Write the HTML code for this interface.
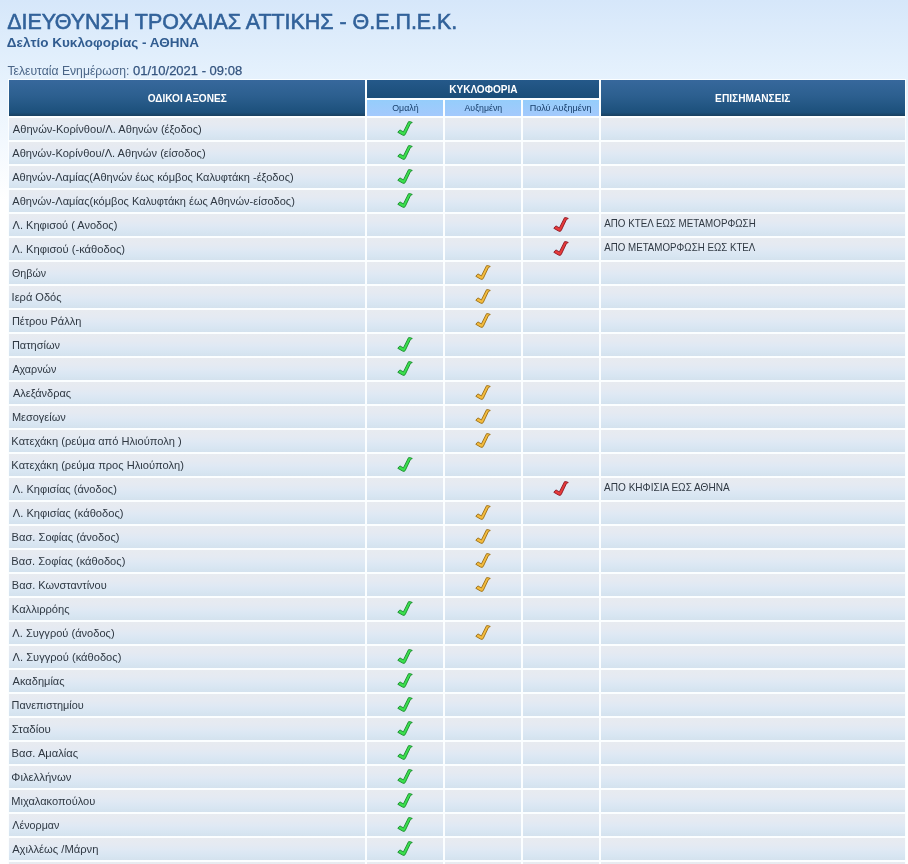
<!DOCTYPE html>
<html lang="el"><head><meta charset="utf-8"><title>Δελτίο Κυκλοφορίας - ΑΘΗΝΑ</title>
<style>
html,body{margin:0;padding:0}
body{width:908px;height:864px;overflow:hidden;position:relative;font-family:"Liberation Sans","DejaVu Sans",sans-serif;
 background:linear-gradient(to bottom,#d6e7fa 0,#e6f2fd 80px,#ffffff 200px,#ffffff 100%);color:#333}
.x{display:inline-block;transform-origin:0 50%;white-space:nowrap}
.xc{display:inline-block;transform-origin:50% 50%;white-space:nowrap}
.t1{position:absolute;left:7px;top:10px;margin:0;font-size:22px;line-height:24px;font-weight:normal;-webkit-text-stroke:.6px #32629a;color:#32629a;white-space:nowrap}
.t2{position:absolute;left:7px;top:35px;margin:0;font-size:13px;line-height:16px;font-weight:bold;color:#315c90;white-space:nowrap}
.t3{position:absolute;left:7px;top:63px;margin:0;font-size:13px;line-height:16px;color:#4a6587;white-space:nowrap}
.t3 .la{position:absolute;left:0;top:0}
.t3 b{position:absolute;left:126px;top:0;font-weight:normal;color:#34547f;-webkit-text-stroke:.25px #34547f}
.tb{position:absolute;left:7px;top:78px;width:900px;border-collapse:separate;border-spacing:2px;table-layout:fixed;background:transparent}
.bgw{position:absolute;left:8px;top:79px;width:898px;height:800px;background:#fbfeff}
.tb th,.tb td{padding:0;margin:0;overflow:hidden;white-space:nowrap}
.h{background:linear-gradient(to bottom,#37689c 0,#2c5f8f 45%,#1c507b 90%,#18405f 100%);color:#fff;font-size:11px;font-weight:bold;text-align:center;vertical-align:middle}
.c1{width:356px;height:36px}
.hk{height:18px;background:linear-gradient(to bottom,#25598a 0,#1a4d78 100%)}
.c5{width:304px}
.s{width:76px;height:16px;background:linear-gradient(to bottom,#95cdfb,#a3c9fc);color:#173f6b;font-size:9px;font-weight:normal;text-align:center;vertical-align:middle}
.tb td{height:22px;background:linear-gradient(to bottom,#e8ebf0 0,#e5eaf2 30%,#dfe9f4 55%,#d8e6f2 80%,#d4e2ee 100%);font-size:11px;color:#2f3842;vertical-align:middle}
.n{text-align:left;padding-left:3.4px !important}
.k{text-align:center}
.m{padding-left:3px !important}
.m span{position:relative;top:-2px}
.i{display:block;margin:0 auto;overflow:visible}
.g{fill:#3be04e;stroke:#178a2b;stroke-width:.9}
.o{fill:#f4bc3e;stroke:#9a6c12;stroke-width:.9}
.r{fill:#e83a3a;stroke:#8c1420;stroke-width:.9}
</style></head>
<body>
<h1 class="t1"><span class="x" style="transform:translateX(0.20px) scaleX(0.9737)">ΔΙΕΥΘΥΝΣΗ ΤΡΟΧΑΙΑΣ ΑΤΤΙΚΗΣ - Θ.Ε.Π.Ε.Κ.</span></h1>
<h2 class="t2"><span class="x" style="transform:translateX(-0.15px) scaleX(1.0386)">Δελτίο Κυκλοφορίας - ΑΘΗΝΑ</span></h2>
<div class="t3"><span class="x la" style="transform:translateX(0.40px) scaleX(0.9365)">Τελευταία Ενημέρωση:</span> <b class="x da">01/10/2021 - 09:08</b></div>
<div class="bgw"></div>
<table class="tb" cellspacing="2" cellpadding="0">
<thead>
<tr><th class="h c1" rowspan="2"><span class="xc" style="transform:translateX(0.00px) scaleX(0.9151)">ΟΔΙΚΟΙ ΑΞΟΝΕΣ</span></th><th class="h hk" colspan="3"><span class="xc" style="transform:translateX(0.00px) scaleX(0.9149)">ΚΥΚΛΟΦΟΡΙΑ</span></th><th class="h c5" rowspan="2"><span class="xc" style="transform:translateX(0.00px) scaleX(0.9235)">ΕΠΙΣΗΜΑΝΣΕΙΣ</span></th></tr>
<tr><th class="s"><span class="xc" style="transform:translateX(0.00px) scaleX(0.9808)">Ομαλή</span></th><th class="s"><span class="xc" style="transform:translateX(0.00px) scaleX(0.9737)">Αυξημένη</span></th><th class="s"><span class="xc" style="transform:translateX(0.00px) scaleX(1.0083)">Πολύ Αυξημένη</span></th></tr>
</thead>
<tbody>
<tr><td class="n"><span class="x" style="transform:translateX(0.85px) scaleX(1.0091)">Αθηνών-Κορίνθου/Λ. Αθηνών (έξοδος)</span></td><td class="k"><svg class="i g" width="16" height="16" viewBox="0 0 16 16"><path d="M11.5 .7L13.4 .7L15.3 1.5L13.5 2.4L8.2 13.6L7 14.4L5.5 14L.8 11.3L2.9 8.9L6.4 10.9Z"/></svg></td><td class="k"></td><td class="k"></td><td class="m"></td></tr>
<tr><td class="n"><span class="x" style="transform:translateX(0.25px) scaleX(1.0079)">Αθηνών-Κορίνθου/Λ. Αθηνών (είσοδος)</span></td><td class="k"><svg class="i g" width="16" height="16" viewBox="0 0 16 16"><path d="M11.5 .7L13.4 .7L15.3 1.5L13.5 2.4L8.2 13.6L7 14.4L5.5 14L.8 11.3L2.9 8.9L6.4 10.9Z"/></svg></td><td class="k"></td><td class="k"></td><td class="m"></td></tr>
<tr><td class="n"><span class="x" style="transform:translateX(0.25px) scaleX(1.0018)">Αθηνών-Λαμίας(Αθηνών έως κόμβος Καλυφτάκη -έξοδος)</span></td><td class="k"><svg class="i g" width="16" height="16" viewBox="0 0 16 16"><path d="M11.5 .7L13.4 .7L15.3 1.5L13.5 2.4L8.2 13.6L7 14.4L5.5 14L.8 11.3L2.9 8.9L6.4 10.9Z"/></svg></td><td class="k"></td><td class="k"></td><td class="m"></td></tr>
<tr><td class="n"><span class="x" style="transform:translateX(0.35px) scaleX(1.0025)">Αθηνών-Λαμίας(κόμβος Καλυφτάκη έως Αθηνών-είσοδος)</span></td><td class="k"><svg class="i g" width="16" height="16" viewBox="0 0 16 16"><path d="M11.5 .7L13.4 .7L15.3 1.5L13.5 2.4L8.2 13.6L7 14.4L5.5 14L.8 11.3L2.9 8.9L6.4 10.9Z"/></svg></td><td class="k"></td><td class="k"></td><td class="m"></td></tr>
<tr><td class="n"><span class="x" style="transform:translateX(0.60px) scaleX(1.0019)">Λ. Κηφισού ( Ανοδος)</span></td><td class="k"></td><td class="k"></td><td class="k"><svg class="i r" width="16" height="16" viewBox="0 0 16 16"><path d="M11.5 .7L13.4 .7L15.3 1.5L13.5 2.4L8.2 13.6L7 14.4L5.5 14L.8 11.3L2.9 8.9L6.4 10.9Z"/></svg></td><td class="m"><span class="x" style="transform:translateX(0.20px) scaleX(0.8911)">ΑΠΟ ΚΤΕΛ ΕΩΣ ΜΕΤΑΜΟΡΦΩΣΗ</span></td></tr>
<tr><td class="n"><span class="x" style="transform:translateX(0.35px) scaleX(1.0155)">Λ. Κηφισού (-κάθοδος)</span></td><td class="k"></td><td class="k"></td><td class="k"><svg class="i r" width="16" height="16" viewBox="0 0 16 16"><path d="M11.5 .7L13.4 .7L15.3 1.5L13.5 2.4L8.2 13.6L7 14.4L5.5 14L.8 11.3L2.9 8.9L6.4 10.9Z"/></svg></td><td class="m"><span class="x" style="transform:translateX(0.20px) scaleX(0.8859)">ΑΠΟ ΜΕΤΑΜΟΡΦΩΣΗ ΕΩΣ ΚΤΕΛ</span></td></tr>
<tr><td class="n"><span class="x" style="transform:translateX(0.00px) scaleX(0.9706)">Θηβών</span></td><td class="k"></td><td class="k"><svg class="i o" width="16" height="16" viewBox="0 0 16 16"><path d="M11.5 .7L13.4 .7L15.3 1.5L13.5 2.4L8.2 13.6L7 14.4L5.5 14L.8 11.3L2.9 8.9L6.4 10.9Z"/></svg></td><td class="k"></td><td class="m"></td></tr>
<tr><td class="n"><span class="x" style="transform:translateX(-0.40px) scaleX(1.0042)">Ιερά Οδός</span></td><td class="k"></td><td class="k"><svg class="i o" width="16" height="16" viewBox="0 0 16 16"><path d="M11.5 .7L13.4 .7L15.3 1.5L13.5 2.4L8.2 13.6L7 14.4L5.5 14L.8 11.3L2.9 8.9L6.4 10.9Z"/></svg></td><td class="k"></td><td class="m"></td></tr>
<tr><td class="n"><span class="x" style="transform:translateX(-0.50px) scaleX(1.0000)">Πέτρου Ράλλη</span></td><td class="k"></td><td class="k"><svg class="i o" width="16" height="16" viewBox="0 0 16 16"><path d="M11.5 .7L13.4 .7L15.3 1.5L13.5 2.4L8.2 13.6L7 14.4L5.5 14L.8 11.3L2.9 8.9L6.4 10.9Z"/></svg></td><td class="k"></td><td class="m"></td></tr>
<tr><td class="n"><span class="x" style="transform:translateX(-0.50px) scaleX(1.0000)">Πατησίων</span></td><td class="k"><svg class="i g" width="16" height="16" viewBox="0 0 16 16"><path d="M11.5 .7L13.4 .7L15.3 1.5L13.5 2.4L8.2 13.6L7 14.4L5.5 14L.8 11.3L2.9 8.9L6.4 10.9Z"/></svg></td><td class="k"></td><td class="k"></td><td class="m"></td></tr>
<tr><td class="n"><span class="x" style="transform:translateX(0.50px) scaleX(0.9773)">Αχαρνών</span></td><td class="k"><svg class="i g" width="16" height="16" viewBox="0 0 16 16"><path d="M11.5 .7L13.4 .7L15.3 1.5L13.5 2.4L8.2 13.6L7 14.4L5.5 14L.8 11.3L2.9 8.9L6.4 10.9Z"/></svg></td><td class="k"></td><td class="k"></td><td class="m"></td></tr>
<tr><td class="n"><span class="x" style="transform:translateX(0.50px) scaleX(1.0000)">Αλεξάνδρας</span></td><td class="k"></td><td class="k"><svg class="i o" width="16" height="16" viewBox="0 0 16 16"><path d="M11.5 .7L13.4 .7L15.3 1.5L13.5 2.4L8.2 13.6L7 14.4L5.5 14L.8 11.3L2.9 8.9L6.4 10.9Z"/></svg></td><td class="k"></td><td class="m"></td></tr>
<tr><td class="n"><span class="x" style="transform:translateX(-0.50px) scaleX(1.0000)">Μεσογείων</span></td><td class="k"></td><td class="k"><svg class="i o" width="16" height="16" viewBox="0 0 16 16"><path d="M11.5 .7L13.4 .7L15.3 1.5L13.5 2.4L8.2 13.6L7 14.4L5.5 14L.8 11.3L2.9 8.9L6.4 10.9Z"/></svg></td><td class="k"></td><td class="m"></td></tr>
<tr><td class="n"><span class="x" style="transform:translateX(-0.65px) scaleX(1.0102)">Κατεχάκη (ρεύμα από Ηλιούπολη )</span></td><td class="k"></td><td class="k"><svg class="i o" width="16" height="16" viewBox="0 0 16 16"><path d="M11.5 .7L13.4 .7L15.3 1.5L13.5 2.4L8.2 13.6L7 14.4L5.5 14L.8 11.3L2.9 8.9L6.4 10.9Z"/></svg></td><td class="k"></td><td class="m"></td></tr>
<tr><td class="n"><span class="x" style="transform:translateX(-0.65px) scaleX(1.0101)">Κατεχάκη (ρεύμα προς Ηλιούπολη)</span></td><td class="k"><svg class="i g" width="16" height="16" viewBox="0 0 16 16"><path d="M11.5 .7L13.4 .7L15.3 1.5L13.5 2.4L8.2 13.6L7 14.4L5.5 14L.8 11.3L2.9 8.9L6.4 10.9Z"/></svg></td><td class="k"></td><td class="k"></td><td class="m"></td></tr>
<tr><td class="n"><span class="x" style="transform:translateX(0.85px) scaleX(1.0068)">Λ. Κηφισίας (άνοδος)</span></td><td class="k"></td><td class="k"></td><td class="k"><svg class="i r" width="16" height="16" viewBox="0 0 16 16"><path d="M11.5 .7L13.4 .7L15.3 1.5L13.5 2.4L8.2 13.6L7 14.4L5.5 14L.8 11.3L2.9 8.9L6.4 10.9Z"/></svg></td><td class="m"><span class="x" style="transform:translateX(0.05px) scaleX(0.9146)">ΑΠΟ ΚΗΦΙΣΙΑ ΕΩΣ ΑΘΗΝΑ</span></td></tr>
<tr><td class="n"><span class="x" style="transform:translateX(0.75px) scaleX(1.0138)">Λ. Κηφισίας (κάθοδος)</span></td><td class="k"></td><td class="k"><svg class="i o" width="16" height="16" viewBox="0 0 16 16"><path d="M11.5 .7L13.4 .7L15.3 1.5L13.5 2.4L8.2 13.6L7 14.4L5.5 14L.8 11.3L2.9 8.9L6.4 10.9Z"/></svg></td><td class="k"></td><td class="m"></td></tr>
<tr><td class="n"><span class="x" style="transform:translateX(-0.40px) scaleX(1.0114)">Βασ. Σοφίας (άνοδος)</span></td><td class="k"></td><td class="k"><svg class="i o" width="16" height="16" viewBox="0 0 16 16"><path d="M11.5 .7L13.4 .7L15.3 1.5L13.5 2.4L8.2 13.6L7 14.4L5.5 14L.8 11.3L2.9 8.9L6.4 10.9Z"/></svg></td><td class="k"></td><td class="m"></td></tr>
<tr><td class="n"><span class="x" style="transform:translateX(-0.75px) scaleX(1.0135)">Βασ. Σοφίας (κάθοδος)</span></td><td class="k"></td><td class="k"><svg class="i o" width="16" height="16" viewBox="0 0 16 16"><path d="M11.5 .7L13.4 .7L15.3 1.5L13.5 2.4L8.2 13.6L7 14.4L5.5 14L.8 11.3L2.9 8.9L6.4 10.9Z"/></svg></td><td class="k"></td><td class="m"></td></tr>
<tr><td class="n"><span class="x" style="transform:translateX(-0.15px) scaleX(0.9968)">Βασ. Κωνσταντίνου</span></td><td class="k"></td><td class="k"><svg class="i o" width="16" height="16" viewBox="0 0 16 16"><path d="M11.5 .7L13.4 .7L15.3 1.5L13.5 2.4L8.2 13.6L7 14.4L5.5 14L.8 11.3L2.9 8.9L6.4 10.9Z"/></svg></td><td class="k"></td><td class="m"></td></tr>
<tr><td class="n"><span class="x" style="transform:translateX(-0.15px) scaleX(1.0125)">Καλλιρρόης</span></td><td class="k"><svg class="i g" width="16" height="16" viewBox="0 0 16 16"><path d="M11.5 .7L13.4 .7L15.3 1.5L13.5 2.4L8.2 13.6L7 14.4L5.5 14L.8 11.3L2.9 8.9L6.4 10.9Z"/></svg></td><td class="k"></td><td class="k"></td><td class="m"></td></tr>
<tr><td class="n"><span class="x" style="transform:translateX(0.35px) scaleX(1.0069)">Λ. Συγγρού (άνοδος)</span></td><td class="k"></td><td class="k"><svg class="i o" width="16" height="16" viewBox="0 0 16 16"><path d="M11.5 .7L13.4 .7L15.3 1.5L13.5 2.4L8.2 13.6L7 14.4L5.5 14L.8 11.3L2.9 8.9L6.4 10.9Z"/></svg></td><td class="k"></td><td class="m"></td></tr>
<tr><td class="n"><span class="x" style="transform:translateX(0.60px) scaleX(1.0112)">Λ. Συγγρού (κάθοδος)</span></td><td class="k"><svg class="i g" width="16" height="16" viewBox="0 0 16 16"><path d="M11.5 .7L13.4 .7L15.3 1.5L13.5 2.4L8.2 13.6L7 14.4L5.5 14L.8 11.3L2.9 8.9L6.4 10.9Z"/></svg></td><td class="k"></td><td class="k"></td><td class="m"></td></tr>
<tr><td class="n"><span class="x" style="transform:translateX(0.60px) scaleX(1.0039)">Ακαδημίας</span></td><td class="k"><svg class="i g" width="16" height="16" viewBox="0 0 16 16"><path d="M11.5 .7L13.4 .7L15.3 1.5L13.5 2.4L8.2 13.6L7 14.4L5.5 14L.8 11.3L2.9 8.9L6.4 10.9Z"/></svg></td><td class="k"></td><td class="k"></td><td class="m"></td></tr>
<tr><td class="n"><span class="x" style="transform:translateX(-0.40px) scaleX(0.9889)">Πανεπιστημίου</span></td><td class="k"><svg class="i g" width="16" height="16" viewBox="0 0 16 16"><path d="M11.5 .7L13.4 .7L15.3 1.5L13.5 2.4L8.2 13.6L7 14.4L5.5 14L.8 11.3L2.9 8.9L6.4 10.9Z"/></svg></td><td class="k"></td><td class="k"></td><td class="m"></td></tr>
<tr><td class="n"><span class="x" style="transform:translateX(-0.25px) scaleX(1.0417)">Σταδίου</span></td><td class="k"><svg class="i g" width="16" height="16" viewBox="0 0 16 16"><path d="M11.5 .7L13.4 .7L15.3 1.5L13.5 2.4L8.2 13.6L7 14.4L5.5 14L.8 11.3L2.9 8.9L6.4 10.9Z"/></svg></td><td class="k"></td><td class="k"></td><td class="m"></td></tr>
<tr><td class="n"><span class="x" style="transform:translateX(-0.50px) scaleX(1.0156)">Βασ. Αμαλίας</span></td><td class="k"><svg class="i g" width="16" height="16" viewBox="0 0 16 16"><path d="M11.5 .7L13.4 .7L15.3 1.5L13.5 2.4L8.2 13.6L7 14.4L5.5 14L.8 11.3L2.9 8.9L6.4 10.9Z"/></svg></td><td class="k"></td><td class="k"></td><td class="m"></td></tr>
<tr><td class="n"><span class="x" style="transform:translateX(-0.65px) scaleX(1.0298)">Φιλελλήνων</span></td><td class="k"><svg class="i g" width="16" height="16" viewBox="0 0 16 16"><path d="M11.5 .7L13.4 .7L15.3 1.5L13.5 2.4L8.2 13.6L7 14.4L5.5 14L.8 11.3L2.9 8.9L6.4 10.9Z"/></svg></td><td class="k"></td><td class="k"></td><td class="m"></td></tr>
<tr><td class="n"><span class="x" style="transform:translateX(-0.75px) scaleX(1.0061)">Μιχαλακοπούλου</span></td><td class="k"><svg class="i g" width="16" height="16" viewBox="0 0 16 16"><path d="M11.5 .7L13.4 .7L15.3 1.5L13.5 2.4L8.2 13.6L7 14.4L5.5 14L.8 11.3L2.9 8.9L6.4 10.9Z"/></svg></td><td class="k"></td><td class="k"></td><td class="m"></td></tr>
<tr><td class="n"><span class="x" style="transform:translateX(0.35px) scaleX(0.9729)">Λένορμαν</span></td><td class="k"><svg class="i g" width="16" height="16" viewBox="0 0 16 16"><path d="M11.5 .7L13.4 .7L15.3 1.5L13.5 2.4L8.2 13.6L7 14.4L5.5 14L.8 11.3L2.9 8.9L6.4 10.9Z"/></svg></td><td class="k"></td><td class="k"></td><td class="m"></td></tr>
<tr><td class="n"><span class="x" style="transform:translateX(0.25px) scaleX(1.0179)">Αχιλλέως /Μάρνη</span></td><td class="k"><svg class="i g" width="16" height="16" viewBox="0 0 16 16"><path d="M11.5 .7L13.4 .7L15.3 1.5L13.5 2.4L8.2 13.6L7 14.4L5.5 14L.8 11.3L2.9 8.9L6.4 10.9Z"/></svg></td><td class="k"></td><td class="k"></td><td class="m"></td></tr>
<tr><td class="n"></td><td class="k"></td><td class="k"></td><td class="k"></td><td class="m"></td></tr>
</tbody></table>
</body></html>
